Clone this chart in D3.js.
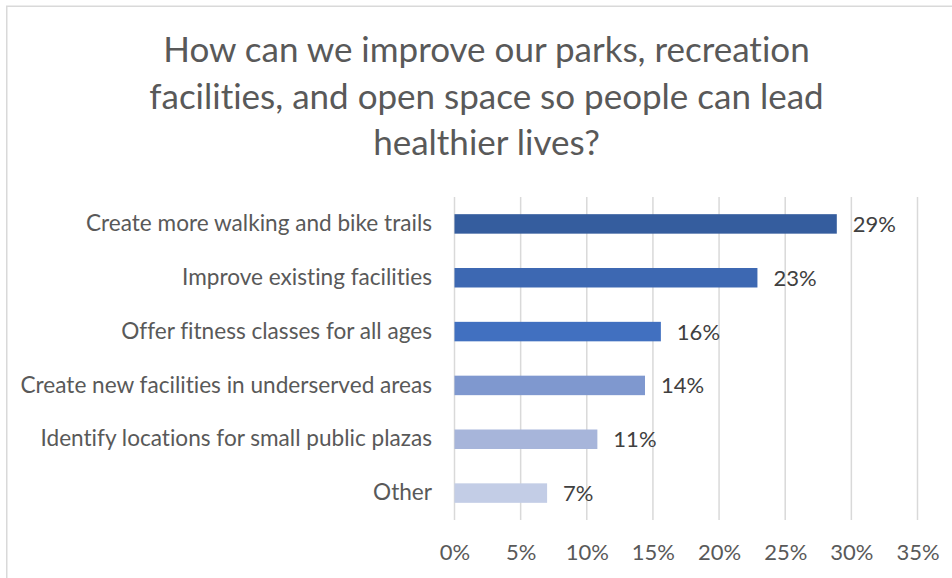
<!DOCTYPE html>
<html>
<head>
<meta charset="utf-8">
<script src="https://cdn.jsdelivr.net/npm/d3@7"></script>
<style>
  body { margin: 0; background: #fff; }
  text { font-family: Lato, "Open Sans", sans-serif; font-variant-ligatures: none; }
</style>
</head>
<body>
<div class="barChart"></div>
<script>
const titleLines = ["How can we improve our parks, recreation",
                    "facilities, and open space so people can lead",
                    "healthier lives?"];
const categories = ["Create more walking and bike trails",
                    "Improve existing facilities",
                    "Offer fitness classes for all ages",
                    "Create new facilities in underserved areas",
                    "Identify locations for small public plazas",
                    "Other"];
const shares = [0.289, 0.229, 0.156, 0.144, 0.108, 0.070];
const barColors = ["#355d9e", "#3d68b2", "#4170c0", "#7f98cf", "#a7b5da", "#c3cde6"];
const xTicks = [0, 0.05, 0.10, 0.15, 0.20, 0.25, 0.30, 0.35];

let svg = d3.select(".barChart")
            .append("svg")
            .attr("width", 952)
            .attr("height", 578)

// chart area frame (runs off the right / bottom of the shot)
svg.append("rect")
   .attr("x", 6.75)
   .attr("y", 6.25)
   .attr("width", 1000)
   .attr("height", 1000)
   .attr("fill", "none")
   .attr("stroke", "#d9d9d9")
   .attr("stroke-width", 1.5)

svg.selectAll(".title")
   .data(titleLines)
   .enter().append("text")
   .attr("class", "title")
   .attr("x", 486.5)
   .attr("y", (d, i) => 62 + i * 46.5)
   .attr("text-anchor", "middle")
   .attr("font-size", 35)
   .attr("fill", "#595959")
   .text(d => d)

let x_scale = d3.scaleLinear()
                .domain([0, 0.35])
                .range([454.5, 917.5])
let y_scale = d3.scaleBand()
                .domain(categories)
                .range([197, 520])
                .paddingInner(0.638)
                .paddingOuter(0.319)

// vertical gridlines
svg.selectAll(".grid")
   .data(xTicks)
   .enter().append("line")
   .attr("class", "grid")
   .attr("x1", d => x_scale(d))
   .attr("x2", d => x_scale(d))
   .attr("y1", 197)
   .attr("y2", 520)
   .attr("stroke", "#d9d9d9")
   .attr("stroke-width", 1.5)

let x_axis = d3.axisBottom(x_scale)
               .tickValues(xTicks)
               .tickFormat(d3.format(".0%"))
               .tickSize(0)
               .tickPadding(24.5)
let gx = svg.append("g")
            .attr("transform", "translate(0,520)")
            .call(x_axis)
gx.select(".domain").remove()
gx.selectAll("text").attr("font-size", 22).attr("fill", "#595959")

let y_axis = d3.axisLeft(y_scale)
               .tickSize(0)
               .tickPadding(22.5)
let gy = svg.append("g")
            .attr("transform", "translate(454.5,0)")
            .call(y_axis)
gy.select(".domain").remove()
gy.selectAll("text").attr("font-size", 22.6).attr("fill", "#595959")

svg.selectAll(".bar")
   .data(shares)
   .enter().append("rect")
   .attr("class", "bar")
   .attr("x", x_scale(0))
   .attr("y", (d, i) => y_scale(categories[i]))
   .attr("width", d => x_scale(d) - x_scale(0))
   .attr("height", y_scale.bandwidth())
   .attr("fill", (d, i) => barColors[i])

svg.selectAll(".barlabel")
   .data(shares)
   .enter().append("text")
   .attr("class", "barlabel")
   .attr("x", d => x_scale(d) + 16)
   .attr("y", (d, i) => y_scale(categories[i]) + y_scale.bandwidth() / 2)
   .attr("dy", "0.36em")
   .attr("font-size", 22)
   .attr("fill", "#404040")
   .text(d => d3.format(".0%")(d))
</script>
</body>
</html>
